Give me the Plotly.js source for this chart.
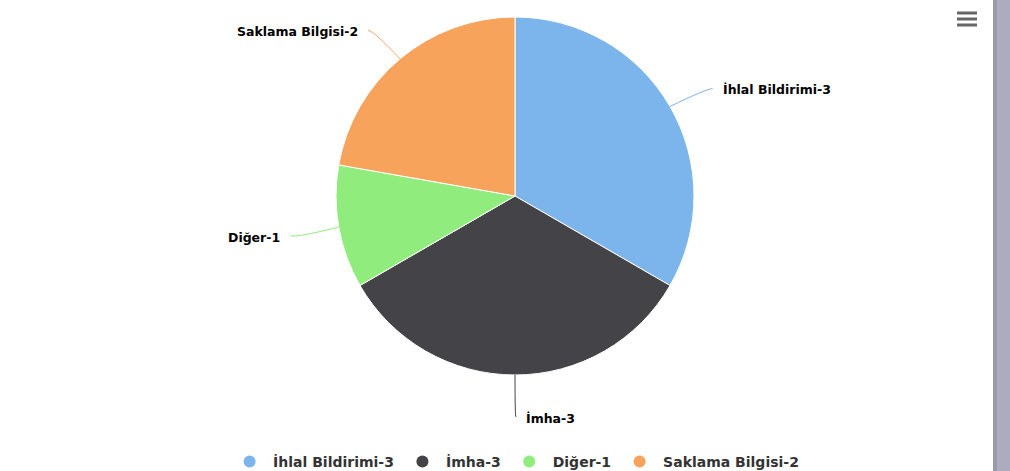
<!DOCTYPE html>
<html><head><meta charset="utf-8">
<script src="https://cdn.plot.ly/plotly-3.0.1.min.js"></script>
<style>html,body{margin:0;padding:0;background:#fff;}#chart{width:1010px;height:471px;}</style>
</head><body><div id="chart"></div>
<script>
const labels = ['İhlal Bildirimi-3', 'İmha-3', 'Diğer-1', 'Saklama Bilgisi-2'];
const values = [3, 3, 1, 2];
const colors = ['#7cb5ec', '#434348', '#90ed7d', '#f7a35c'];

const W = 1010, H = 471, CX = 515, CY = 196, R = 179, DIST = 40;
const px = x => x / W, py = y => 1 - y / H;
const FONT = 'DejaVu Sans, Verdana, sans-serif';

const total = values.reduce((a, b) => a + b, 0);
const annotations = [], shapes = [];
let cum = 0;
values.forEach((v, i) => {
  const mid = (cum + v / 2) / total * 2 * Math.PI; cum += v;
  const s = Math.sin(mid), c = Math.cos(mid);
  const side = s >= -1e-9 ? 1 : -1;
  const E = [CX + R * s, CY - R * c];
  const L = [CX + (R + DIST) * s, CY - (R + DIST) * c + 3];
  const gap = 9 + 8 * Math.abs(s);
  const tx = L[0] + side * gap;
  const end = [tx - side * 8, L[1] - 1];
  shapes.push({type: 'path', xref: 'paper', yref: 'paper',
    path: `M ${px(E[0])} ${py(E[1])} Q ${px(L[0])} ${py(L[1])} ${px(end[0])} ${py(end[1])}`,
    line: {color: colors[i], width: 1}});
  annotations.push({xref: 'paper', yref: 'paper', x: px(tx), y: py(L[1]),
    xanchor: side > 0 ? 'left' : 'right', yanchor: 'middle', showarrow: false,
    text: '<b>' + labels[i] + '</b>', font: {family: FONT, size: 12.5, color: '#000'}});
});

// hamburger menu icon and scrollbar (page decoration)
[13, 19, 25].forEach(y => shapes.push({type: 'line', xref: 'paper', yref: 'paper',
  x0: px(957), x1: px(977), y0: py(y), y1: py(y), line: {color: '#666', width: 3}}));
shapes.push({type: 'rect', xref: 'paper', yref: 'paper', x0: px(993), x1: 1, y0: 0, y1: 1,
  fillcolor: '#acacbe', line: {width: 0}});
shapes.push({type: 'rect', xref: 'paper', yref: 'paper', x0: px(993), x1: px(997), y0: 0, y1: 1,
  fillcolor: '#9a9aad', line: {width: 0}});

const traces = [{
  type: 'pie', labels: labels, values: values, sort: false, direction: 'clockwise', rotation: 0,
  marker: {colors: colors, line: {color: '#ffffff', width: 1}},
  textinfo: 'none', hoverinfo: 'label+value', showlegend: false,
  domain: {x: [px(CX - R), px(CX + R)], y: [py(CY + R), py(CY - R)]}
}];
labels.forEach((l, i) => traces.push({type: 'scatter', mode: 'markers', x: [null], y: [null],
  name: l, marker: {color: colors[i], size: 12, symbol: 'circle'}, hoverinfo: 'skip'}));

const layout = {
  width: W, height: H, margin: {l: 0, r: 0, t: 0, b: 0, autoexpand: false},
  paper_bgcolor: '#fff', plot_bgcolor: '#fff',
  xaxis: {visible: false}, yaxis: {visible: false},
  showlegend: true,
  legend: {orientation: 'h', x: 0.51, xanchor: 'center', y: py(462), yanchor: 'middle', itemwidth: 37,
    font: {family: FONT, size: 14, color: '#333', weight: 'bold'}, traceorder: 'normal'},
  annotations: annotations, shapes: shapes
};
Plotly.newPlot('chart', traces, layout, {displayModeBar: false});
</script></body></html>
